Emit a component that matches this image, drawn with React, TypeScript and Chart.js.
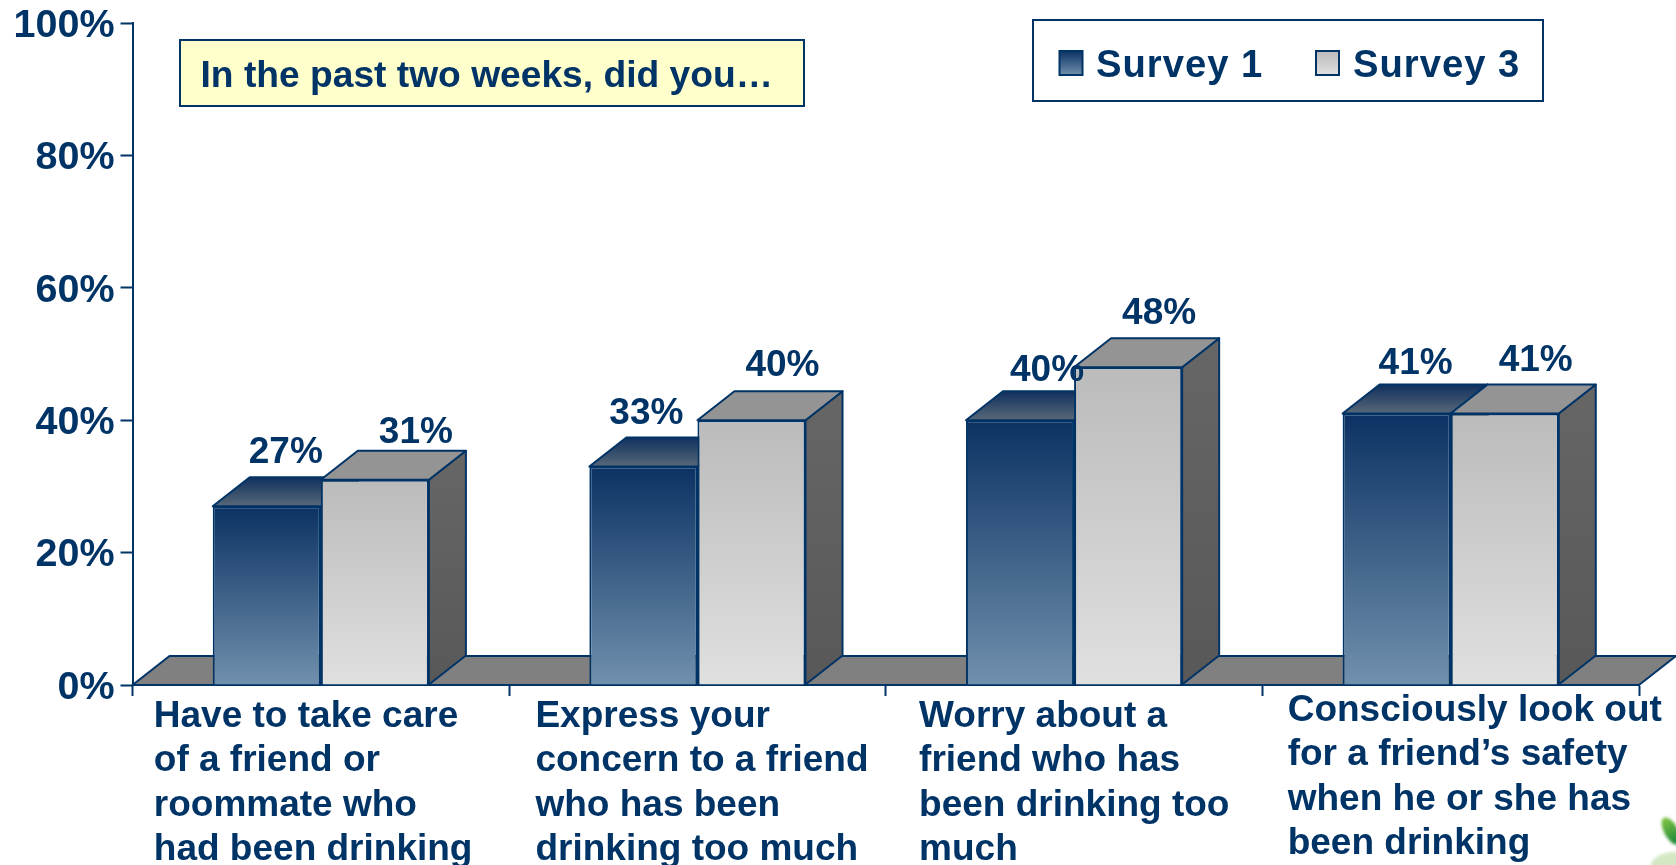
import React, { useEffect, useRef } from "react";
import { Chart, registerables } from "chart.js";

Chart.register(...registerables);

const NAVY = "#003366";
const FONT = "'Liberation Sans', Arial, sans-serif";

const categories: string[][] = [
  ["Have to take care", "of a friend or", "roommate who", "had been drinking"],
  ["Express your", "concern to a friend", "who has been", "drinking too much"],
  ["Worry about a", "friend who has", "been drinking too", "much"],
  ["Consciously look out", "for a friend\u2019s safety", "when he or she has", "been drinking"],
];
const survey1 = [27, 33, 40, 41];
const survey3 = [31, 40, 48, 41];
const seriesNames = ["Survey 1", "Survey 3"];
const yTicks = [0, 20, 40, 60, 80, 100];
const calloutText = "In the past two weeks, did you\u2026";

// Hand-placed offsets of the source slide, in pixels, relative to each bar's top centre.
const labelNudgeS1 = [[19, -43], [3, -43], [27, -39], [19, -40]];
const labelNudgeS3 = [[41, -37], [31, -44], [31, -43], [31, -43]];
// Hand-placed offsets of the category labels (left edge from the tick centre, y from the default).
const catNudge = [[-167, -3.5], [-162, -3.5], [-155, -3.5], [-163, -9.5]];
const yLabelDrop = 3;

const DX = 37;
const DY = 29;

function poly(ctx: CanvasRenderingContext2D, pts: number[][], fill: string | CanvasGradient) {
  ctx.beginPath();
  pts.forEach((p, i) => (i ? ctx.lineTo(p[0], p[1]) : ctx.moveTo(p[0], p[1])));
  ctx.closePath();
  ctx.fillStyle = fill;
  ctx.fill();
  ctx.strokeStyle = NAVY;
  ctx.lineWidth = 2;
  ctx.lineJoin = "round";
  ctx.stroke();
}

const frontGradient = (ctx: CanvasRenderingContext2D, top: number, base: number, idx: number) => {
  const g = ctx.createLinearGradient(0, top, 0, base);
  if (idx === 0) {
    g.addColorStop(0, "#0b3263");
    g.addColorStop(1, "#7190ad");
  } else {
    g.addColorStop(0, "#bbbbbb");
    g.addColorStop(1, "#e0e0e0");
  }
  return g;
};

const threeD = {
  id: "threeD",
  beforeDatasetsDraw(chart: any) {
    const { ctx } = chart;
    const { left, right, bottom } = chart.chartArea;
    ctx.save();
    poly(ctx, [[left, bottom], [right, bottom], [right + DX, bottom - DY], [left + DX, bottom - DY]], "#808080");
    // Side and top faces of every bar, first series behind the second.
    [0, 1].forEach((idx) => {
      chart.getDatasetMeta(idx).data.forEach((bar: any) => {
        const { x, y, base, width } = bar.getProps(["x", "y", "base", "width"], true);
        const l = x - width / 2;
        const r = x + width / 2;
        const side = ctx.createLinearGradient(0, y - DY, 0, base);
        side.addColorStop(0, idx === 0 ? "#33404f" : "#666666");
        side.addColorStop(1, idx === 0 ? "#33404f" : "#585858");
        poly(ctx, [[r, y], [r + DX, y - DY], [r + DX, base - DY], [r, base]], side);
        const top = ctx.createLinearGradient(0, y - DY, 0, y);
        if (idx === 0) {
          top.addColorStop(0, "#10305e");
          top.addColorStop(1, "#586878");
        } else {
          top.addColorStop(0, "#949494");
          top.addColorStop(1, "#949494");
        }
        poly(ctx, [[l, y], [r, y], [r + DX, y - DY], [l + DX, y - DY]], top);
      });
    });
    ctx.restore();
  },
  afterDatasetsDraw(chart: any) {
    const { ctx } = chart;
    ctx.save();
    ctx.fillStyle = NAVY;
    ctx.font = `bold 37px ${FONT}`;
    ctx.textAlign = "center";
    ctx.textBaseline = "alphabetic";
    [labelNudgeS1, labelNudgeS3].forEach((nudge, ds) => {
      chart.getDatasetMeta(ds).data.forEach((bar: any, i: number) => {
        const value = chart.data.datasets[ds].data[i];
        ctx.fillText(`${value}%`, bar.x + nudge[i][0], bar.y + nudge[i][1]);
      });
    });
    ctx.restore();
  },
  afterDraw(chart: any) {
    const { ctx } = chart;
    ctx.save();
    // Callout
    ctx.fillStyle = "#ffffcc";
    ctx.strokeStyle = NAVY;
    ctx.lineWidth = 2;
    ctx.fillRect(180, 40, 624, 66);
    ctx.strokeRect(180, 40, 624, 66);
    ctx.fillStyle = NAVY;
    ctx.font = `bold 37.2px ${FONT}`;
    ctx.textAlign = "left";
    ctx.textBaseline = "alphabetic";
    ctx.fillText(calloutText, 200.5, 87);
    // Legend
    ctx.fillStyle = "#ffffff";
    ctx.fillRect(1033, 20, 510, 81);
    ctx.strokeRect(1033, 20, 510, 81);
    ctx.font = `bold 38.2px ${FONT}`;
    const pos = [[1059.5, 1096], [1316, 1353]];
    chart.data.datasets.forEach((d: any, i: number) => {
      const [bx, tx] = pos[i];
      ctx.fillStyle = frontGradient(ctx, 51, 75, i);
      ctx.fillRect(bx, 51, 23, 24);
      ctx.strokeStyle = NAVY;
      ctx.strokeRect(bx, 51, 23, 24);
      ctx.fillStyle = NAVY;
      ctx.letterSpacing = "1px";
      ctx.fillText(d.label, tx, 77);
      ctx.letterSpacing = "0px";
    });
    // Corner of the slide's leaf decoration
    ctx.filter = "blur(1.5px)";
    const leaf = ctx.createLinearGradient(1662, 820, 1676, 842);
    leaf.addColorStop(0, "#7fc241");
    leaf.addColorStop(1, "#1f8a3a");
    ctx.fillStyle = leaf;
    ctx.beginPath();
    ctx.ellipse(1671, 831, 7, 15, -0.5, 0, Math.PI * 2);
    ctx.fill();
    ctx.fillStyle = "#d5e8c4";
    ctx.beginPath();
    ctx.ellipse(1674, 868, 24, 16, 0, 0, Math.PI * 2);
    ctx.fill();
    ctx.filter = "none";
    ctx.restore();
  },
  beforeDraw(chart: any) {
    chart.scales.x.getLabelItems(chart.chartArea).forEach((item: any, i: number) => {
      if (item.nudged) return;
      item.nudged = true;
      item.options.textAlign = "left";
      item.options.translation = [
        item.options.translation[0] + catNudge[i][0],
        item.options.translation[1] + catNudge[i][1],
      ];
    });
    chart.scales.y.getLabelItems(chart.chartArea).forEach((item: any) => {
      if (item.nudged) return;
      item.nudged = true;
      item.options.translation = [item.options.translation[0], item.options.translation[1] + yLabelDrop];
    });
  },
};

export default function App() {
  const ref = useRef<HTMLCanvasElement | null>(null);
  useEffect(() => {
    const chart = new Chart(ref.current as HTMLCanvasElement, {
      type: "bar",
      data: {
        labels: categories,
        datasets: [survey1, survey3].map((data, idx) => ({
          label: seriesNames[idx],
          data,
          borderColor: NAVY,
          borderWidth: 2,
          categoryPercentage: 0.574,
          barPercentage: 1,
          backgroundColor: (c: any) => {
            const { chart: ch, parsed } = c;
            const y = ch.scales?.y;
            if (!y || !parsed) return "#888888";
            const t = y.getPixelForValue(parsed.y);
            const b = y.getPixelForValue(0);
            if (!Number.isFinite(t) || !Number.isFinite(b)) return "#888888";
            return frontGradient(ch.ctx, t, b, idx);
          },
        })),
      },
      options: {
        animation: false,
        responsive: false,
        layout: { padding: { left: 0, top: 23, right: 37, bottom: 0 } },
        plugins: { legend: { display: false }, title: { display: false }, tooltip: { enabled: false } },
        scales: {
          x: {
            offset: true,
            afterFit: (s: any) => { s.height = 180; s.paddingLeft = 0; s.paddingRight = 0; },
            border: { color: NAVY, width: 2 },
            grid: { drawOnChartArea: false, drawTicks: true, offset: true, tickLength: 11, tickWidth: 2, tickColor: NAVY, color: NAVY },
            ticks: {
              autoSkip: false,
              maxRotation: 0,
              minRotation: 0,
              padding: 2,
              color: NAVY,
              font: { family: FONT, weight: "bold", size: 37, lineHeight: 1.2 },
            },
          },
          y: {
            min: 0,
            max: 100,
            afterFit: (s: any) => { s.width = 132.5; s.paddingTop = 0; s.paddingBottom = 0; },
            afterBuildTicks: (s: any) => { s.ticks = yTicks.map((value) => ({ value })); },
            border: { color: NAVY, width: 2 },
            grid: { drawOnChartArea: false, drawTicks: true, tickLength: 12, tickWidth: 2, tickColor: NAVY, color: NAVY },
            ticks: {
              padding: 6,
              color: NAVY,
              font: { family: FONT, weight: "bold", size: 39.5 },
              callback: (v: any) => `${v}%`,
            },
          },
        },
      },
      plugins: [threeD],
    } as any);
    return () => chart.destroy();
  }, []);
  return (
    <canvas
      ref={ref}
      width={1676}
      height={865}
      style={{ position: "absolute", left: 0, top: 0, width: 1676, height: 865, display: "block" }}
    />
  );
}
